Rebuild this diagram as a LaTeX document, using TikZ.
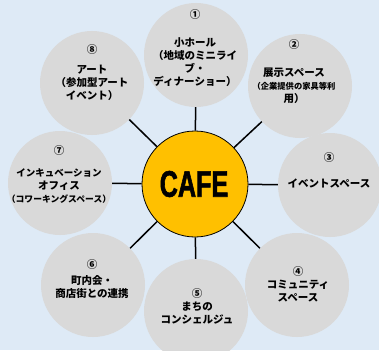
\documentclass[tikz,border=0pt]{standalone}
\usepackage{fontspec}
\setmainfont{Noto Sans CJK JP}[BoldFont={Noto Sans CJK JP Black}]
\newfontfamily\cafefont{Liberation Sans}[UprightFont={* Bold},FakeStretch=0.68,FakeBold=1.5]
\definecolor{bgblue}{HTML}{DEEAF6}
\definecolor{satgray}{HTML}{D9D9D9}
\definecolor{cafegold}{HTML}{FFC000}

\begin{document}
\begin{tikzpicture}[x=1pt,y=-1pt,
  satellite/.style={circle,fill=satgray,minimum size=104pt,inner sep=0pt},
  hub/.style={circle,fill=cafegold,draw=black,line width=0.8pt,minimum size=106pt,inner sep=0pt},
  spoke/.style={black,line width=1.5pt},
  lbl/.style={font=\fontsize{10.5}{13}\selectfont\bfseries,align=center,inner sep=0pt}]

  % =====================================================================
  % 1. BACKGROUND
  % =====================================================================
  \fill[bgblue] (0,0) rectangle (379,350);
  \clip (0,0) rectangle (379,350);

  % =====================================================================
  % 2. CIRCLES
  % =====================================================================
  \node[satellite] (s1) at (196, 55) {};
  \node[satellite] (s2) at (300, 86) {};
  \node[satellite] (s3) at (330,185) {};
  \node[satellite] (s4) at (297,285) {};
  \node[satellite] (s5) at (196,311) {};
  \node[satellite] (s6) at ( 93,285) {};
  \node[satellite] (s7) at ( 60,183) {};
  \node[satellite] (s8) at ( 92, 83) {};

  \node[hub] (cafe) at (195,184) {};

  % spokes from the cafe to every circle
  \foreach \i in {1,...,8}
    \draw[spoke] (cafe) -- (s\i);

  % =====================================================================
  % 3. LABELS
  % =====================================================================
  \node[font=\cafefont\fontsize{37}{37}\selectfont] (cafetxt) at (194,184) {CAFE};

  \node[lbl] (t1) at (195, 48) {①\\[15pt]小ホール\\（地域のミニライ\\ブ・\\ディナーショー）};
  \node[lbl] (t2) at (294, 72) {②\\[15pt]展示スペース\\{\fontsize{8.3}{13}\selectfont （企業提供の家具等利}\\用）};
  \node[lbl] (t3) at (329,170) {③\\[13pt]イベントスペース};
  \node[lbl] (t4) at (298,284) {④\\コミュニティ\\スペース};
  \node[lbl] (t5) at (197,306) {⑤\\まちの\\コンシェルジュ};
  \node[lbl] (t6) at ( 92,279) {⑥\\[3pt]町内会・\\商店街との連携};
  \node[lbl] (t7) at ( 59,174) {⑦\\[9pt]{\fontsize{9.5}{13}\selectfont インキュベーション}\\オフィス\\{\fontsize{8.8}{13}\selectfont （コワーキングスペース）}};
  \node[lbl] (t8) at ( 92, 73) {⑧\\[7pt]アート\\（参加型アート\\イベント）};

\end{tikzpicture}
\end{document}
